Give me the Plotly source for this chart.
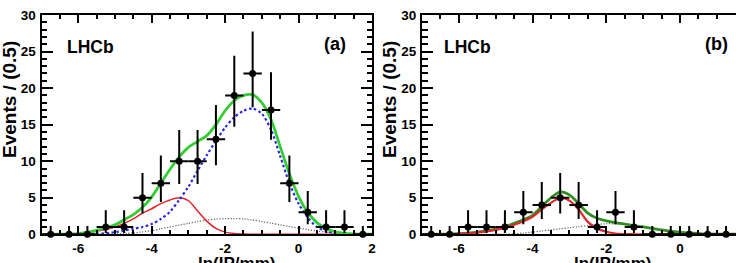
import plotly.graph_objects as go

W, H = 736, 263

# ---------------- data ----------------
bin_centers = [-6.75, -6.25, -5.75, -5.25, -4.75, -4.25, -3.75, -3.25, -2.75,
               -2.25, -1.75, -1.25, -0.75, -0.25, 0.25, 0.75, 1.25, 1.75]
bin_half = [0.25] * 18

counts_a = [0, 0, 0, 1, 1, 5, 7, 10, 10, 13, 19, 22, 17, 7, 3, 1, 1, 0]
err_up_a = [1.15, 1.15, 1.15, 2.3, 2.3, 3.38, 3.77, 4.27, 4.27, 4.7, 5.41, 5.73, 5.18, 3.77, 2.92, 2.3, 2.3, 1.15]
err_lo_a = [0, 0, 0, 0.83, 0.83, 2.16, 2.58, 3.11, 3.11, 3.55, 4.29, 4.62, 4.07, 2.58, 1.63, 0.83, 0.83, 0]

counts_b = [0, 0, 1, 1, 1, 3, 4, 5, 4, 1, 3, 1, 0, 0, 0, 0, 0, 0]
err_up_b = [1.15, 1.15, 2.3, 2.3, 2.3, 2.92, 3.16, 3.38, 3.16, 2.3, 2.92, 2.3, 1.15, 1.15, 1.15, 1.15, 1.15, 1.15]
err_lo_b = [0, 0, 0.83, 0.83, 0.83, 1.63, 1.91, 2.16, 1.91, 0.83, 1.63, 0.83, 0, 0, 0, 0, 0, 0]

curve_x = [-7.0, -6.5, -6.0, -5.5, -5.0, -4.75, -4.5, -4.25, -4.0, -3.75, -3.5, -3.25, -3.0,
           -2.75, -2.5, -2.25, -2.0, -1.75, -1.5, -1.25, -1.0, -0.75, -0.5, -0.25,
           0.0, 0.25, 0.5, 0.75, 1.0, 1.5, 2.0]

# panel (a)
total_a = [0.0, 0.02, 0.1, 0.55, 1.3, 2.0, 2.7, 3.7, 5.1, 7.0, 8.9, 10.6, 11.9,
           12.7, 13.5, 15.0, 16.9, 18.3, 19.0, 19.1, 18.0, 15.7, 12.0, 8.3,
           5.2, 3.0, 1.6, 0.8, 0.35, 0.06, 0.01]
red_a = [0.0, 0.02, 0.12, 0.4, 1.0, 1.5, 2.1, 2.9, 3.5, 4.2, 4.7, 5.0, 4.6,
         3.2, 1.8, 0.8, 0.3, 0.1, 0.03, 0.01, 0.0, 0.0, 0.0, 0.0,
         0.0, 0.0, 0.0, 0.0, 0.0, 0.0, 0.0]
blue_a = [0.0, 0.0, 0.0, 0.05, 0.3, 0.5, 0.75, 1.0, 1.4, 2.1, 3.1, 4.7, 6.5,
          8.7, 10.8, 12.8, 14.6, 16.0, 16.9, 17.2, 16.5, 14.3, 10.7, 7.0,
          4.2, 2.3, 1.0, 0.45, 0.18, 0.02, 0.0]
grey_a = [0.0, 0.0, 0.0, 0.01, 0.05, 0.1, 0.2, 0.33, 0.5, 0.75, 1.0, 1.25, 1.5,
          1.75, 1.95, 2.08, 2.15, 2.15, 2.1, 1.95, 1.75, 1.52, 1.3, 1.07,
          0.85, 0.65, 0.45, 0.3, 0.18, 0.06, 0.02]

# panel (b)
total_b = [0.0, 0.02, 0.1, 0.3, 0.7, 1.05, 1.5, 2.0, 2.6, 3.8, 5.0, 5.8, 5.4,
           4.2, 2.9, 2.2, 1.85, 1.6, 1.4, 1.2, 1.0, 0.8, 0.6, 0.43,
           0.3, 0.18, 0.1, 0.05, 0.03, 0.01, 0.0]
red_b = [0.0, 0.01, 0.05, 0.25, 0.6, 0.9, 1.3, 1.8, 2.4, 3.4, 4.3, 5.0, 4.6,
         3.4, 1.7, 0.8, 0.35, 0.1, 0.03, 0.01, 0.0, 0.0, 0.0, 0.0,
         0.0, 0.0, 0.0, 0.0, 0.0, 0.0, 0.0]
grey_b = [0.0, 0.0, 0.0, 0.0, 0.0, 0.02, 0.05, 0.17, 0.3, 0.45, 0.6, 0.75, 0.9,
          1.05, 1.2, 1.33, 1.45, 1.42, 1.35, 1.18, 1.0, 0.8, 0.6, 0.43,
          0.28, 0.18, 0.1, 0.05, 0.03, 0.01, 0.0]

x_tickvals = [-6, -4, -2, 0, 2]
x_ticktext = ["-6", "-4", "-2", "0", "2"]
y_tickvals = [0, 5, 10, 15, 20, 25, 30]
y_ticktext = ["0", "5", "10", "15", "20", "25", "30"]

# ---------------- figure ----------------
fig = go.Figure()

GREEN_A = "#33cc33"
GREEN_B = "#2f8f1f"
RED = "#e3262b"
BLUE = "#2626e6"
GREY = "#6a6a6a"


def add_curve(x, y, color, dash, width, xa, ya):
    fig.add_trace(go.Scatter(x=x, y=y, mode="lines", xaxis=xa, yaxis=ya,
                             line=dict(color=color, dash=dash, width=width, shape="spline", smoothing=0.8),
                             hoverinfo="skip", showlegend=False))


def add_data(y, up, lo, xa, ya):
    fig.add_trace(go.Scatter(
        x=bin_centers, y=y, mode="markers", xaxis=xa, yaxis=ya, cliponaxis=False,
        marker=dict(color="black", size=7),
        error_y=dict(type="data", symmetric=False, array=up, arrayminus=lo,
                     color="black", thickness=2, width=0),
        error_x=dict(type="data", array=bin_half, color="black", thickness=2, width=0),
        showlegend=False))


# panel a
add_curve(curve_x, grey_a, GREY, "1.2px,1.6px", 1.3, "x", "y")
add_curve(curve_x, red_a, RED, "solid", 1.5, "x", "y")
add_curve(curve_x, blue_a, BLUE, "2.5px,2.5px", 2.2, "x", "y")
add_curve(curve_x, total_a, GREEN_A, "solid", 2.8, "x", "y")
add_data(counts_a, err_up_a, err_lo_a, "x", "y")

# panel b
add_curve(curve_x, grey_b, GREY, "1.2px,1.6px", 1.3, "x2", "y2")
add_curve(curve_x, total_b, GREEN_B, "solid", 2.8, "x2", "y2")
add_curve(curve_x, red_b, RED, "solid", 2.2, "x2", "y2")
add_data(counts_b, err_up_b, err_lo_b, "x2", "y2")

tickfont = dict(family="Liberation Sans, Arial, sans-serif", size=13.5, color="black", weight="bold")


def xaxis_cfg(domain, rng, anchor):
    return dict(domain=domain, range=rng, anchor=anchor, automargin=False,
                tickmode="array", tickvals=x_tickvals, ticktext=x_ticktext,
                ticks="inside", ticklen=8, tickwidth=1.5, tickcolor="black",
                minor=dict(dtick=0.5, ticks="inside", ticklen=4, tickwidth=1.5, tickcolor="black"),
                showline=True, linecolor="black", linewidth=2, mirror="allticks",
                showgrid=False, zeroline=False, tickfont=tickfont, fixedrange=True)


def yaxis_cfg(domain, anchor, mirror):
    return dict(domain=domain, range=[0, 30], anchor=anchor, automargin=False,
                tickmode="array", tickvals=y_tickvals, ticktext=y_ticktext,
                ticks="inside", ticklen=11, tickwidth=1.5, tickcolor="black",
                minor=dict(dtick=1, ticks="inside", ticklen=5.5, tickwidth=1.5, tickcolor="black"),
                showline=True, linecolor="black", linewidth=2, mirror=mirror,
                showgrid=False, zeroline=False, tickfont=tickfont, fixedrange=True,
                ticklabelstandoff=1)


ydom = [1 - 234.3 / H, 1 - 15.0 / H]
fig.update_layout(
    width=W, height=H, margin=dict(l=0, r=0, t=0, b=0, autoexpand=False),
    paper_bgcolor="white", plot_bgcolor="white",
    xaxis=xaxis_cfg([41.5 / W, 372.0 / W], [-7, 2], "y"),
    yaxis=yaxis_cfg(ydom, "x", "allticks"),
    xaxis2=xaxis_cfg([422.0 / W, 1.0], [-7, 1.52], "y2"),
    yaxis2=yaxis_cfg(ydom, "x2", False),
    showlegend=False,
)

bold = dict(family="Liberation Sans, Arial, sans-serif", color="black", weight="bold")


def ann(text, px, py, size, xanchor="center", yanchor="middle", angle=0):
    fig.add_annotation(text=text, x=px / W, y=1 - py / H, xref="paper", yref="paper",
                       xanchor=xanchor, yanchor=yanchor, showarrow=False, textangle=angle,
                       font=dict(size=size, **bold))


ann("LHCb", 65, 47, 17.5, xanchor="left")
ann("(a)", 335, 44, 18)
ann("LHCb", 442, 47, 17.5, xanchor="left")
ann("(b)", 716, 44, 18)
ann("Events / (0.5)", 10, 100, 19, angle=-90)
ann("Events / (0.5)", 390, 100, 19, angle=-90)
ann("ln(IP/mm)", 277, 252, 17, xanchor="right", yanchor="top")
ann("ln(IP/mm)", 653, 252, 17, xanchor="right", yanchor="top")

fig.write_html("out.html")
